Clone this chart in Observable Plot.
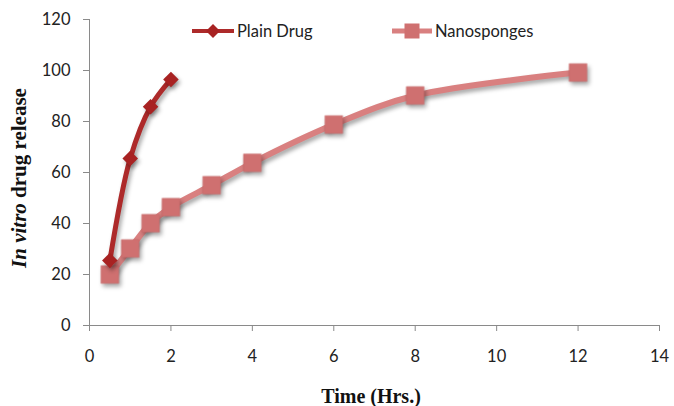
<!DOCTYPE html>
<html><head><meta charset="utf-8">
<script src="https://cdn.jsdelivr.net/npm/d3@7"></script>
<script src="https://cdn.jsdelivr.net/npm/@observablehq/plot@0.6"></script>
<style>
body{margin:0;background:#fff;}
#wrap{position:relative;width:674px;height:406px;}
.shadow{filter:drop-shadow(2px 3px 2px rgba(0,0,0,0.35));}
#legend{position:absolute;top:0;left:0;font-family:Lato,"Open Sans",sans-serif;font-size:16.5px;color:#222;}
#legend .item{position:absolute;top:21px;display:flex;align-items:center;white-space:nowrap;}
#legend svg{margin-right:3px;}
#ytitle{position:absolute;left:19px;top:178px;transform:translate(-50%,-50%) rotate(-90deg);font-family:"Liberation Serif","DejaVu Serif",serif;font-weight:bold;font-size:21px;white-space:nowrap;color:#111;}
#xtitle{position:absolute;left:371px;top:396px;transform:translate(-50%,-50%);font-family:"Liberation Serif","DejaVu Serif",serif;font-weight:bold;font-size:20px;white-space:nowrap;color:#111;}
</style></head>
<body><div id="wrap"></div>
<script>
const plainTime = [0.5, 1, 1.5, 2];
const plainRelease = [25.5, 65.5, 85.8, 96.5];
const nanoTime = [0.5, 1, 1.5, 2, 3, 4, 6, 8, 12];
const nanoRelease = [20, 30.2, 40.1, 46.4, 55, 63.8, 78.8, 90.2, 99.2];
const xTicks = [0, 2, 4, 6, 8, 10, 12, 14];
const yTicks = [0, 20, 40, 60, 80, 100, 120];
const seriesNames = ["Plain Drug", "Nanosponges"];
const plainColor = "#ad2a2a";
const nanoColor = "#d98080";
const nanoMarker = "#cf7070";

const plain = plainTime.map((t, i) => ({t, v: plainRelease[i]}));
const nano = nanoTime.map((t, i) => ({t, v: nanoRelease[i]}));

const chart = Plot.plot({
  width: 674, height: 406,
  marginLeft: 89, marginRight: 15, marginTop: 19, marginBottom: 81,
  style: {fontFamily: 'Lato,"Open Sans",sans-serif', fontSize: "16px", color: "#222", background: "#fff"},
  x: {domain: [0, 14], ticks: xTicks, label: null},
  y: {domain: [0, 120], ticks: yTicks, label: null},
  marks: [
    Plot.ruleX([0], {stroke: "#8a8a8a", strokeWidth: 1}),
    Plot.ruleY([0], {stroke: "#8a8a8a", strokeWidth: 1}),
    Plot.axisX({ticks: xTicks, tickSize: 6, stroke: "#8a8a8a", tickPadding: 19, fontSize: 16.5, fill: "#222"}),
    Plot.axisY({ticks: yTicks, tickSize: 6, stroke: "#8a8a8a", tickPadding: 13, fontSize: 16.5, fill: "#222"}),
    Plot.line(nano, {x: "t", y: "v", stroke: nanoColor, strokeWidth: 6, curve: "catmull-rom", className: "shadow"}),
    Plot.dot(nano, {x: "t", y: "v", symbol: "square", r: 10, fill: nanoMarker, stroke: "#c86868", strokeWidth: 0.5, className: "shadow"}),
    Plot.line(plain, {x: "t", y: "v", stroke: plainColor, strokeWidth: 5, curve: "catmull-rom", className: "shadow"}),
    Plot.dot(plain, {x: "t", y: "v", symbol: "diamond2", r: 7, fill: "#a82222", className: "shadow"})
  ]
});
const wrap = document.getElementById("wrap");
wrap.appendChild(chart);

const legend = document.createElement("div");
legend.id = "legend";
const glyphs = [
  `<svg width="42" height="18"><line x1="0" y1="9" x2="42" y2="9" stroke="${plainColor}" stroke-width="4"/><path d="M21,2 L28,9 L21,16 L14,9 Z" fill="#a82222"/></svg>`,
  `<svg width="40" height="18"><line x1="0" y1="9" x2="40" y2="9" stroke="${nanoColor}" stroke-width="5"/><rect x="12.5" y="1.5" width="15" height="15" fill="${nanoMarker}"/></svg>`
];
const legendLeft = [192, 392];
seriesNames.forEach((n, i) => {
  const it = document.createElement("div");
  it.className = "item";
  it.style.left = legendLeft[i] + "px";
  it.innerHTML = glyphs[i] + `<span>${n}</span>`;
  legend.appendChild(it);
});
wrap.appendChild(legend);

const yt = document.createElement("div");
yt.id = "ytitle";
yt.innerHTML = "<i>In vitro</i> drug release";
wrap.appendChild(yt);
const xt = document.createElement("div");
xt.id = "xtitle";
xt.textContent = "Time (Hrs.)";
wrap.appendChild(xt);
</script></body></html>
